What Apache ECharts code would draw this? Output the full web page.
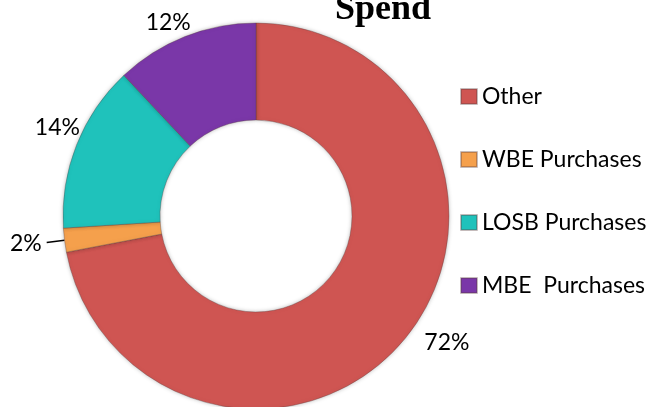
<!DOCTYPE html>
<html>
<head>
<meta charset="utf-8">
<script src="https://cdn.jsdelivr.net/npm/echarts@6/dist/echarts.min.js"></script>
<style>
  html, body { margin: 0; padding: 0; background: #fff; }
  #chart { width: 665px; height: 407px; }
</style>
</head>
<body>
<div id="chart"></div>
<script>
const categories = ['Other', 'WBE Purchases', 'LOSB Purchases', 'MBE  Purchases']
const shares = [72, 2, 14, 12]
const colors = ['#cf5552', '#f5a04c', '#1fc2bb', '#7a37a8']
// nudges so labels sit where the original's "best fit" put them
const labelShift = [[6, 0], [0, 1], [18, -15], [17, -8]]

let chart = echarts.init(document.getElementById('chart'))

const pieData = categories.map((name, i) => {
  const item = { name: name, value: shares[i], itemStyle: { color: colors[i] } }
  if (i === 1) {
    // the small slice gets a leader line like the original
    item.labelLine = { show: true, length: 18, length2: 0, lineStyle: { color: '#000', width: 1.5 } }
  }
  return item
})

const option = {
  title: {
    text: 'Spend',
    left: 378,
    top: -13,
    textAlign: 'center',
    textStyle: { fontFamily: 'Liberation Serif', fontWeight: 'bold', fontSize: 36, color: '#000' }
  },
  legend: {
    orient: 'vertical',
    left: 455,
    top: 80,
    itemWidth: 16,
    itemHeight: 15,
    itemGap: 40,
    icon: 'rect',
    data: categories,
    textStyle: { fontFamily: 'Lato', fontSize: 23, color: '#000' }
  },
  series: [{
    type: 'pie',
    center: [256, 216],
    radius: [96, 193],
    startAngle: 90,
    clockwise: true,
    avoidLabelOverlap: false,
    data: pieData,
    itemStyle: {
      borderColor: 'rgba(90,60,60,0.35)',
      borderWidth: 1,
      shadowBlur: 4,
      shadowColor: 'rgba(0,0,0,0.25)'
    },
    label: {
      show: true,
      position: 'outside',
      formatter: '{c}%',
      fontFamily: 'Lato',
      fontSize: 23,
      color: '#000'
    },
    labelLine: { show: false, length: 6, length2: 4 },
    labelLayout: function (params) {
      const s = labelShift[params.dataIndex]
      return { dx: s[0], dy: s[1] }
    },
    emphasis: { disabled: true }
  }]
}
chart.setOption(option)
</script>
</body>
</html>
